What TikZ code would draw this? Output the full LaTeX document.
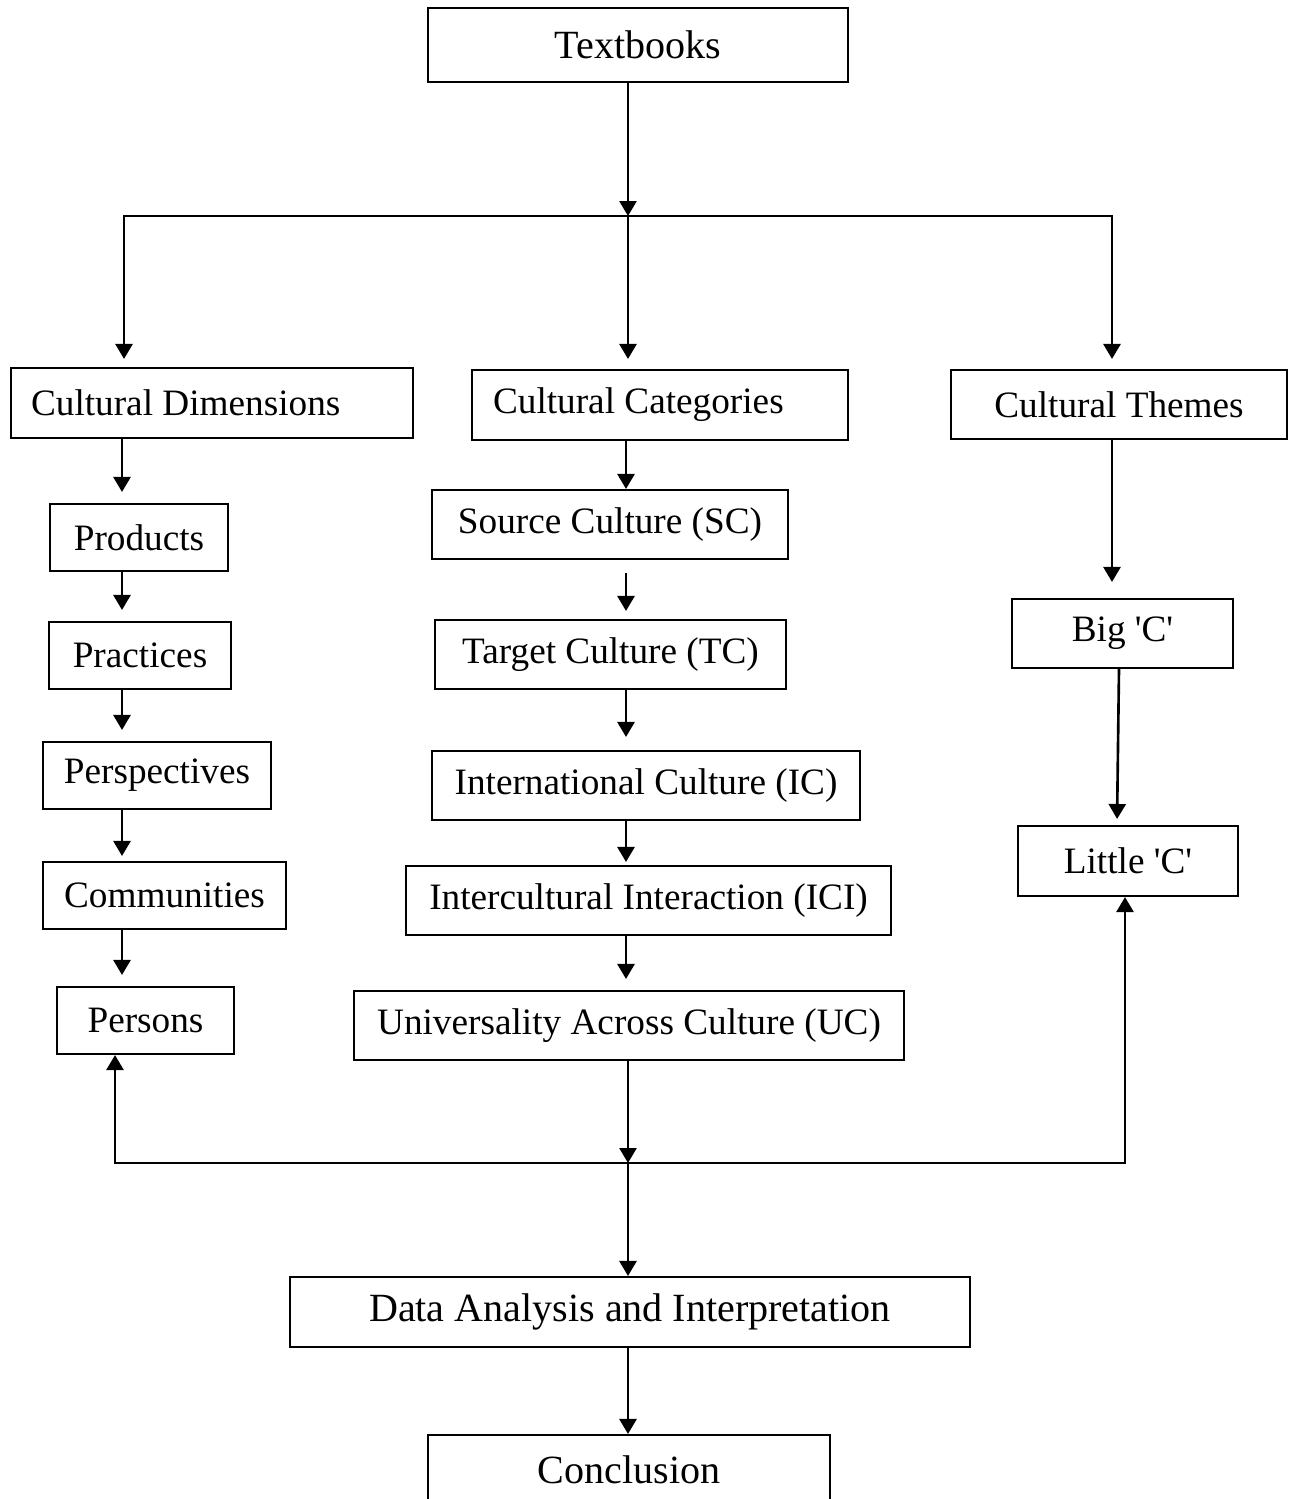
\documentclass[tikz,border=0pt]{standalone}
\usepackage{fontspec}
\setmainfont{Liberation Serif}
\usetikzlibrary{arrows.meta}
\newcommand{\boxfont}{\fontsize{21.2}{25}\selectfont}
\newcommand{\headfont}{\fontsize{22.8}{27}\selectfont}
\newcommand{\sq}{\textquotesingle}

\begin{document}
\begin{tikzpicture}[x=0.02cm, y=-0.02cm,
	box/.style={draw, line width=1.2pt, inner sep=0pt, font=\boxfont},
	head/.style={box, font=\headfont},
	arr/.style={line width=1.5pt, -{Triangle[width=0.34cm,length=0.3cm]}}]
				\useasboundingbox (0,0) rectangle (1291,1499);
				\clip (0,0) rectangle (1291,1499);
				
				% top
				\node[head, minimum width=8.4cm, minimum height=1.48cm] (tb) at (638,45) {Textbooks};
				
				% three branches
				\node[box, inner xsep=0.4cm, minimum height=1.4cm] (dim) at (212,403) {\makebox[7.24cm][l]{Cultural Dimensions}};
				\node[box, inner xsep=0.42cm, minimum height=1.4cm] (cat) at (660,405) {\makebox[6.68cm][l]{Cultural Categories}};
				\node[box, minimum width=6.72cm, minimum height=1.38cm] (thm) at (1119,404.5) {Cultural Themes};
				
				% dimensions
				\node[box, minimum width=3.56cm, minimum height=1.34cm] (prod) at (139,537.5) {Products};
				\node[box, minimum width=3.64cm, minimum height=1.34cm] (prac) at (140,655.5) {Practices};
				\node[box, minimum width=4.56cm, minimum height=1.34cm] (pers) at (157,775.5) {Perspectives};
				\node[box, minimum width=4.86cm, minimum height=1.34cm] (comm) at (164.5,895.5) {Communities};
				\node[box, minimum width=3.54cm, minimum height=1.34cm] (psn) at (145.5,1020.5) {Persons};
				
				% categories
				\node[box, minimum width=7.12cm, minimum height=1.38cm] (sc) at (610,524.5) {Source Culture (SC)};
				\node[box, minimum width=7.02cm, minimum height=1.38cm] (tc) at (610.5,654.5) {Target Culture (TC)};
				\node[box, minimum width=8.56cm, minimum height=1.38cm] (ic) at (646,785.5) {International Culture (IC)};
				\node[box, minimum width=9.7cm, minimum height=1.38cm] (ici) at (648.5,900.5) {Intercultural Interaction (ICI)};
				\node[box, minimum width=11cm, minimum height=1.38cm] (uc) at (629,1025.5) {Universality Across Culture (UC)};
				
				% themes
				\node[box, minimum width=4.42cm, minimum height=1.38cm] (bigc) at (1122.5,633.5) {Big \sq C\sq};
				\node[box, minimum width=4.4cm, minimum height=1.4cm] (litc) at (1128,861) {Little \sq C\sq};
				
				% bottom
				\node[head, minimum width=13.6cm, minimum height=1.4cm] (data) at (630,1312) {Data Analysis and Interpretation};
				\node[head, minimum width=8.04cm, minimum height=1.4cm] (conc) at (629,1470) {Conclusion};
				
				\coordinate (jtop) at (628,216);
				\coordinate (jbot) at (628,1163);
				\coordinate (lcol) at (122,0);
				\coordinate (mcol) at (626,0);
				\coordinate (rcol) at (1112,0);
				
				\draw[arr] (tb.south -| jtop) -- (jtop);
				\draw[arr, shorten >=0.16cm] (jtop) -| ([xshift=-1.76cm]dim.north);
				\draw[arr, shorten >=0.2cm] (jtop) -- (jtop |- cat.north);
				\draw[arr, shorten >=0.2cm] (jtop) -| (rcol |- thm.north);
				
				\draw[arr, shorten >=0.22cm] (dim.south -| lcol) -- (prod.north -| lcol);
				\draw[arr, shorten >=0.22cm] (prod.south -| lcol) -- (prac.north -| lcol);
				\draw[arr, shorten >=0.22cm] (prac.south -| lcol) -- (pers.north -| lcol);
				\draw[arr, shorten >=0.1cm] (pers.south -| lcol) -- (comm.north -| lcol);
				\draw[arr, shorten >=0.22cm] (comm.south -| lcol) -- (psn.north -| lcol);
				
				\draw[arr] (cat.south -| mcol) -- (sc.north -| mcol);
				\draw[arr, shorten <=0.26cm, shorten >=0.16cm] (sc.south -| mcol) -- (tc.north -| mcol);
				\draw[arr, shorten >=0.26cm] (tc.south -| mcol) -- (ic.north -| mcol);
				\draw[arr, shorten >=0.06cm] (ic.south -| mcol) -- (ici.north -| mcol);
				\draw[arr, shorten >=0.22cm] (ici.south -| mcol) -- (uc.north -| mcol);
				
				\draw[arr, shorten >=0.32cm] (thm.south -| rcol) -- (bigc.north -| rcol);
				\draw[arr, shorten >=0.12cm] ([xshift=-0.07cm]bigc.south) -- ([xshift=-0.22cm]litc.north);
				
				\draw[arr] (uc.south -| jbot) -- (jbot);
				\draw[arr] (jbot) -| ([xshift=-0.61cm]psn.south);
				\draw[arr] (jbot) -| ([xshift=-0.06cm]litc.south);
				\draw[arr] (jbot) -- (data.north -| jbot);
				\draw[arr] (data.south -| jbot) -- (conc.north -| jbot);
			\end{tikzpicture}
\end{document}
